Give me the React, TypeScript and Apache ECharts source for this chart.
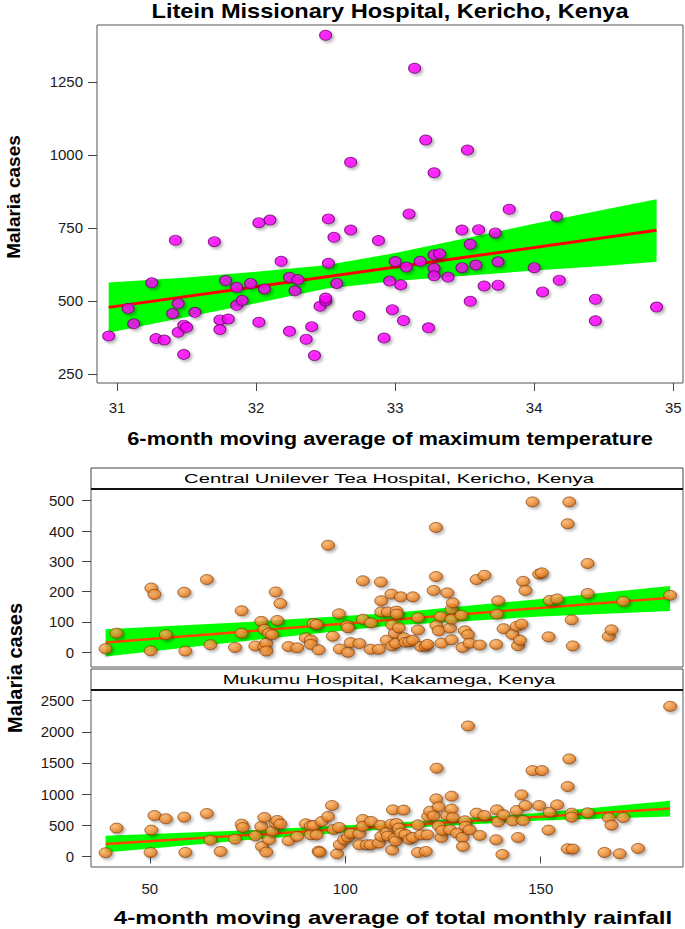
import React, { useEffect, useRef } from "react";
import * as echarts from "echarts";

// ---------- Data ----------
const liteinXTicks = [31, 32, 33, 34, 35];
const liteinYTicks = [250, 500, 750, 1000, 1250];
const rainXTicks = [50, 100, 150];
const centralYTicks = [0, 100, 200, 300, 400, 500];
const mukumuYTicks = [0, 500, 1000, 1500, 2000, 2500];

// Litein: [6-month moving avg max temperature, malaria cases]
const liteinPoints: [number, number][] = [
  [30.94, 380], [31.08, 474], [31.12, 422], [31.25, 562], [31.28, 371], [31.34, 366], [31.4, 457], [31.42, 708],
  [31.44, 491], [31.44, 393], [31.48, 417], [31.48, 317], [31.5, 410], [31.56, 461], [31.7, 703], [31.74, 435],
  [31.74, 402], [31.78, 570], [31.8, 438], [31.86, 485], [31.86, 547], [31.9, 502], [31.96, 560], [32.02, 768],
  [32.02, 427], [32.06, 541], [32.1, 777], [32.18, 636], [32.24, 581], [32.24, 396], [32.28, 535], [32.3, 573],
  [32.36, 369], [32.4, 412], [32.42, 313], [32.46, 482], [32.5, 500], [32.5, 510], [32.52, 781], [32.52, 629],
  [32.56, 718], [32.58, 560], [32.68, 743], [32.74, 449], [32.88, 707], [32.92, 373], [32.96, 568], [32.98, 470],
  [33.0, 635], [33.04, 555], [33.06, 433], [33.08, 616], [33.1, 798], [33.18, 636], [33.24, 408], [33.28, 658],
  [33.28, 612], [33.28, 586], [33.32, 662], [33.38, 582], [33.48, 743], [33.48, 614], [33.54, 694], [33.54, 499],
  [33.58, 623], [33.6, 744], [33.64, 551], [33.72, 733], [33.74, 634], [33.74, 554], [33.82, 814], [34.0, 614],
  [34.06, 531], [34.16, 789], [34.18, 571], [34.44, 506], [34.44, 432], [34.88, 479],
  [32.5, 1410], [33.14, 1297], [33.22, 1051], [33.52, 1017], [32.68, 975], [33.28, 939],
];
const liteinFitX = [30.94, 34.88];
const liteinFitY = [478, 742];
const liteinBandX = [30.94, 31.5, 32.0, 32.5, 33.0, 33.5, 34.0, 34.5, 34.88];
const liteinBandUpper = [563, 580, 600, 622, 664, 714, 764, 812, 848];
const liteinBandLower = [391, 445, 492, 542, 568, 586, 604, 620, 634];

// Central Unilever Tea Hospital: [4-month moving avg rainfall, malaria cases]
const centralPoints: [number, number][] = [
  [38.7, 12], [41.5, 63], [50.2, 5], [50.4, 212], [51.2, 191], [54.1, 58], [58.8, 198], [59.1, 4], [64.6, 240],
  [65.5, 25], [71.8, 16], [73.5, 137], [73.5, 63], [77.0, 21], [78.5, 102], [79.3, 76], [79.3, 18], [79.8, 30],
  [79.8, 4], [80.5, 63], [81.3, 58], [82.2, 199], [82.6, 105], [83.4, 161], [85.5, 19], [87.7, 15], [89.9, 48],
  [91.2, 41], [91.2, 26], [91.9, 95], [92.7, 92], [93.2, 8], [95.6, 353], [96.8, 53], [98.4, 127], [98.6, 11],
  [100.5, 88], [100.7, 0], [100.7, 81], [101.4, 32], [103.6, 29], [104.5, 236], [104.5, 109], [106.6, 97],
  [106.5, 10], [108.6, 10], [109.1, 232], [109.2, 170], [109.2, 133], [110.6, 40], [110.9, 133], [111.8, 192],
  [112.0, 90], [112.0, 21], [112.7, 63], [112.9, 29], [113.1, 136], [113.2, 126], [113.7, 81], [114.2, 183],
  [115.0, 48], [115.4, 33], [116.4, 35], [117.3, 183], [117.3, 40], [118.6, 114], [118.6, 74], [119.4, 19],
  [120.6, 20], [121.0, 26], [122.6, 204], [123.2, 412], [123.2, 250], [123.3, 89], [123.9, 71], [124.4, 118],
  [124.6, 30], [126.1, 196], [126.8, 80], [127.2, 41], [127.2, 142], [127.5, 163], [127.2, 109], [129.7, 122],
  [130.0, 16], [130.6, 71], [131.4, 58], [131.8, 30], [133.6, 240], [134.4, 24], [135.6, 254], [138.6, 26],
  [138.8, 126], [139.1, 170], [140.5, 78], [142.8, 59], [143.9, 86], [144.2, 22], [144.7, 40], [145.1, 93],
  [145.5, 234], [146.1, 204], [147.9, 496], [149.6, 258], [150.3, 262], [152.0, 51], [152.3, 171], [154.2, 176],
  [156.9, 424], [157.3, 496], [157.9, 107], [158.2, 21], [162.0, 293], [162.0, 194], [167.4, 53], [168.1, 74],
  [171.1, 168], [183.1, 188],
];
const centralFitX = [38.7, 183.1];
const centralFitY = [32, 180];
const centralBandX = [38.7, 75, 112, 150, 183.1];
const centralBandUpper = [76, 100, 130, 176, 219];
const centralBandLower = [-14, 38, 88, 118, 136];

// Mukumu Hospital: [4-month moving avg rainfall, malaria cases]
const mukumuPoints: [number, number][] = [
  [38.7, 59], [41.5, 454], [50.2, 64], [50.4, 422], [51.2, 657], [54.1, 604], [58.8, 630], [59.1, 64], [64.6, 689],
  [65.5, 262], [68.1, 80], [71.8, 278], [73.5, 518], [73.8, 465], [77.0, 331], [78.5, 481], [79.3, 625], [78.7, 160],
  [79.8, 69], [80.5, 267], [81.3, 406], [82.2, 534], [82.6, 577], [83.4, 518], [85.5, 251], [87.7, 321], [89.9, 524],
  [91.2, 491], [91.2, 347], [91.9, 497], [92.7, 347], [93.2, 85], [93.4, 69], [94.0, 561], [95.6, 641], [96.6, 817],
  [97.0, 433], [98.4, 465], [97.9, 43], [98.6, 187], [99.7, 267], [100.7, 310], [101.4, 369], [103.6, 363],
  [103.6, 187], [104.5, 593], [104.5, 481], [105.5, 187], [106.6, 561], [106.5, 187], [108.6, 214], [109.1, 497],
  [109.2, 321], [110.6, 385], [110.9, 326], [111.8, 518], [112.0, 101], [112.2, 748], [112.7, 288], [112.9, 246],
  [113.1, 529], [113.7, 454], [114.2, 374], [114.9, 743], [115.4, 353], [116.4, 272], [117.3, 304], [118.6, 507],
  [118.6, 64], [119.4, 347], [120.6, 80], [121.0, 347], [121.2, 641], [121.7, 726], [122.6, 652], [123.3, 924],
  [123.4, 1416], [123.9, 796], [123.9, 491], [124.6, 304], [124.8, 417], [126.1, 657], [126.8, 427], [127.2, 967],
  [127.2, 759], [127.5, 625], [128.6, 374], [130.0, 304], [130.6, 572], [130.8, 481], [130.1, 160], [131.4, 2094],
  [131.8, 427], [133.6, 694], [134.4, 337], [135.6, 657], [138.6, 267], [138.8, 748], [139.1, 556], [140.2, 32],
  [140.5, 668], [142.8, 572], [143.9, 737], [144.2, 304], [145.1, 988], [145.5, 577], [146.1, 817], [147.9, 1378],
  [149.6, 817], [150.3, 1378], [152.0, 422], [152.3, 710], [154.2, 828], [156.9, 1122], [157.3, 1565], [156.9, 123],
  [158.2, 118], [157.9, 694], [157.9, 630], [162.0, 700], [166.3, 64], [167.4, 620], [168.1, 502], [170.2, 43],
  [171.1, 625], [174.9, 128], [183.1, 2409],
];
const mukumuFitX = [38.7, 183.1];
const mukumuFitY = [198, 769];
const mukumuBandX = [38.7, 75, 112, 150, 183.1];
const mukumuBandUpper = [331, 420, 535, 700, 892];
const mukumuBandLower = [64, 262, 442, 578, 641];

// ---------- Helpers ----------
const FONT = '"Liberation Sans", Arial, Helvetica, sans-serif';

function bandSeries(idx: number, bx: number[], up: number[], lo: number[]) {
  return {
    type: "custom",
    xAxisIndex: idx,
    yAxisIndex: idx,
    silent: true,
    clip: false,
    z: 1,
    data: [[bx[0], up[0]]],
    renderItem: (_params: any, api: any) => {
      const pts: number[][] = [];
      for (let i = 0; i < bx.length; i++) pts.push(api.coord([bx[i], up[i]]));
      for (let i = bx.length - 1; i >= 0; i--) pts.push(api.coord([bx[i], lo[i]]));
      return { type: "polygon", shape: { points: pts }, style: { fill: "#00FF00" } };
    },
  };
}

function fitSeries(idx: number, fx: number[], fy: number[], color: string, width: number) {
  return {
    type: "line",
    xAxisIndex: idx,
    yAxisIndex: idx,
    silent: true,
    symbol: "none",
    z: 2,
    data: fx.map((x, i) => [x, fy[i]]),
    lineStyle: { color, width },
  };
}

const orangeFill = new echarts.graphic.RadialGradient(0.38, 0.35, 0.7, [
  { offset: 0, color: "#FDB56A" },
  { offset: 0.6, color: "#EE8A2C" },
  { offset: 1, color: "#C8600E" },
]);

function valueAxis(grid: number, min: number, max: number, ticks: number[] | null, margin: number, tickLen = 9) {
  return {
    type: "value",
    gridIndex: grid,
    min,
    max,
    splitLine: { show: false },
    axisLine: { show: false },
    axisTick: ticks
      ? { show: true, customValues: ticks, length: tickLen, lineStyle: { color: "#444", width: 1 } }
      : { show: false },
    axisLabel: ticks
      ? {
          show: true,
          customValues: ticks,
          margin,
          fontSize: 15,
          color: "#1a1a1a",
          fontFamily: FONT,
          formatter: (v: number) => String(v),
        }
      : { show: false },
  };
}

function hText(text: string, x: number, y: number, size: number, weight: string, scaleX: number) {
  return {
    type: "text",
    x,
    y,
    scaleX,
    silent: true,
    style: {
      text,
      fontSize: size,
      fontWeight: weight,
      fontFamily: FONT,
      fill: "#000",
      align: "center",
      verticalAlign: "middle",
      textAlign: "center",
      textVerticalAlign: "middle",
    },
  };
}

function vText(text: string, x: number, y: number, size: number, scaleY: number) {
  return {
    type: "text",
    x,
    y,
    rotation: Math.PI / 2,
    scaleY,
    silent: true,
    style: {
      text,
      fontSize: size,
      fontWeight: "bold",
      fontFamily: FONT,
      fill: "#000",
      align: "center",
      verticalAlign: "middle",
      textAlign: "center",
      textVerticalAlign: "middle",
    },
  };
}

function strip(y: number, text: string) {
  return [
    {
      type: "rect",
      shape: { x: 91, y, width: 592, height: 21 },
      style: { fill: "#fff", stroke: "#444", lineWidth: 1 },
      silent: true,
    },
    {
      type: "line",
      shape: { x1: 91, y1: y + 21, x2: 683, y2: y + 21 },
      style: { stroke: "#111", lineWidth: 2 },
      silent: true,
    },
    hText(text, 389, y + 10.5, 13.5, "normal", 1.5),
  ];
}

export default function App() {
  const ref = useRef<HTMLDivElement>(null);

  useEffect(() => {
    document.body.style.margin = "0";
    const chart = echarts.init(ref.current!, null, { renderer: "svg" });

    const gridStyle = { show: true, borderColor: "#555", borderWidth: 1, backgroundColor: "#fff" };

    const option: any = {
      animation: false,
      backgroundColor: "#fff",
      grid: [
        { left: 97, top: 25, width: 586, height: 358, ...gridStyle },
        { left: 91, top: 489, width: 592, height: 178, ...gridStyle },
        { left: 91, top: 690, width: 592, height: 177, ...gridStyle },
      ],
      xAxis: [
        valueAxis(0, 30.856, 35.07, liteinXTicks, 17, 8),
        valueAxis(1, 34.96, 186.4, null, 0),
        valueAxis(2, 34.96, 186.4, rainXTicks, 14, 7),
      ],
      yAxis: [
        valueAxis(0, 219, 1445, liteinYTicks, 14),
        valueAxis(1, -48.5, 538.6, centralYTicks, 17),
        valueAxis(2, -170, 2671, mukumuYTicks, 17),
      ],
      series: [
        bandSeries(0, liteinBandX, liteinBandUpper, liteinBandLower),
        fitSeries(0, liteinFitX, liteinFitY, "#FF0000", 3),
        {
          type: "scatter",
          xAxisIndex: 0,
          yAxisIndex: 0,
          z: 3,
          symbol: "circle",
          symbolSize: [12, 10],
          data: liteinPoints,
          itemStyle: {
            color: "#FF00FF",
            borderColor: "#6E006E",
            borderWidth: 1,
            shadowBlur: 3,
            shadowColor: "rgba(0,0,0,0.35)",
            shadowOffsetX: 2,
            shadowOffsetY: 2,
          },
        },
        bandSeries(1, centralBandX, centralBandUpper, centralBandLower),
        fitSeries(1, centralFitX, centralFitY, "#FF4500", 2.5),
        {
          type: "scatter",
          xAxisIndex: 1,
          yAxisIndex: 1,
          z: 3,
          symbol: "circle",
          symbolSize: [13, 10],
          data: centralPoints,
          itemStyle: {
            color: orangeFill,
            borderColor: "#7A3A08",
            borderWidth: 0.8,
            shadowBlur: 3,
            shadowColor: "rgba(0,0,0,0.35)",
            shadowOffsetX: 2,
            shadowOffsetY: 2,
          },
        },
        bandSeries(2, mukumuBandX, mukumuBandUpper, mukumuBandLower),
        fitSeries(2, mukumuFitX, mukumuFitY, "#FF4500", 2.5),
        {
          type: "scatter",
          xAxisIndex: 2,
          yAxisIndex: 2,
          z: 3,
          symbol: "circle",
          symbolSize: [13, 10],
          data: mukumuPoints,
          itemStyle: {
            color: orangeFill,
            borderColor: "#7A3A08",
            borderWidth: 0.8,
            shadowBlur: 3,
            shadowColor: "rgba(0,0,0,0.35)",
            shadowOffsetX: 2,
            shadowOffsetY: 2,
          },
        },
      ],
      graphic: [
        hText("Litein Missionary Hospital, Kericho, Kenya", 390, 11, 20, "bold", 1.18),
        hText("6-month moving average of maximum temperature", 390, 438, 19, "bold", 1.15),
        hText("4-month moving average of total monthly rainfall", 393, 918, 18, "bold", 1.34),
        vText("Malaria cases", 13, 197, 19, 1.0),
        vText("Malaria cases", 14, 668, 20, 1.05),
        ...strip(468, "Central Unilever Tea Hospital, Kericho, Kenya"),
        ...strip(669, "Mukumu Hospital, Kakamega, Kenya"),
      ],
    };

    chart.setOption(option);
    return () => chart.dispose();
  }, []);

  return <div ref={ref} style={{ width: 685, height: 929 }} />;
}
